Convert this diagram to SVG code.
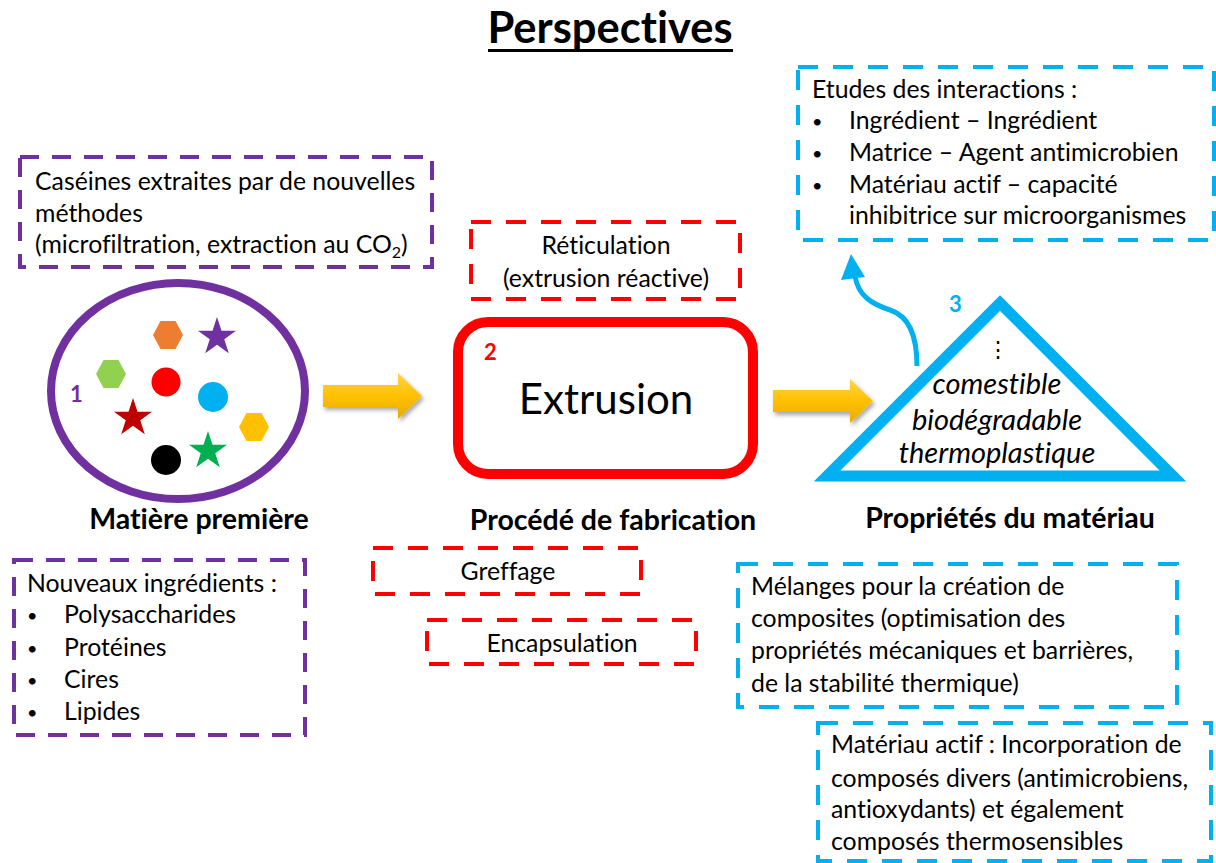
<svg xmlns="http://www.w3.org/2000/svg" xmlns:xlink="http://www.w3.org/1999/xlink" width="1216" height="863" viewBox="0 0 1216 863">
<style>
text{font-family:Lato,"Open Sans","Liberation Sans",sans-serif;fill:#000;font-variant-ligatures:none}
.t{font-size:24.8px}
.b{font-size:18px}
.lbl{font-size:28.5px;font-weight:bold;text-anchor:middle}
.num{font-size:22px;font-weight:bold}
.it{font-size:29px;font-style:italic;text-anchor:middle}
.c{text-anchor:middle}
.dp{fill:none;stroke:#7030A0;stroke-width:4;stroke-dasharray:19 13}
.dr{fill:none;stroke:#FF0000;stroke-width:4;stroke-dasharray:20 15}
.db{fill:none;stroke:#00B0F0;stroke-width:4;stroke-dasharray:20 15}
.ya{fill:url(#yg);filter:url(#sh)}
</style>
<defs>
<linearGradient id="yg" x1="0" y1="0" x2="0" y2="1">
<stop offset="0" stop-color="#FFD54A"/>
<stop offset="0.5" stop-color="#FFC000"/>
<stop offset="1" stop-color="#E6AC00"/>
</linearGradient>
<filter id="sh" x="-20%" y="-30%" width="140%" height="160%">
<feDropShadow dx="2" dy="3" stdDeviation="2" flood-color="#000" flood-opacity="0.35"/>
</filter>
<polygon id="star" points="0,-20 4.49,-6.18 19.02,-6.18 7.27,2.36 11.76,16.18 0,7.64 -11.76,16.18 -7.27,2.36 -19.02,-6.18 -4.49,-6.18"/>
<polygon id="hex" points="-15,0 -7.5,-14 7.5,-14 15,0 7.5,14 -7.5,14"/>
</defs>
<rect width="1216" height="863" fill="#fff"/>

<g id="title">
<text x="610" y="43" font-size="43.5" font-weight="bold" text-anchor="middle">Perspectives</text>
<rect x="488" y="49" width="245" height="3" fill="#000"/>
</g>

<g id="connectors">
<path class="ya" d="M323,385 H398 V373 L422,396 L398,419 V407 H323 Z"/>
<path class="ya" d="M773,390 H850 V379 L873,401 L850,423 V412 H773 Z"/>
<path d="M917,366 C917,332 906,315 890,310 C872,304 858,296 855,276" fill="none" stroke="#00B0F0" stroke-width="5"/>
<polygon points="851,254 841,280 865,277" fill="#00B0F0"/>
</g>

<g id="node-casein">
<rect class="dp" x="20" y="157" width="412" height="110"/>
<text class="t" x="35" y="190">Caséines extraites par de nouvelles</text>
<text class="t" x="35" y="222">méthodes</text>
<text class="t" x="35" y="253">(microfiltration, extraction au CO<tspan font-size="16" dy="5">2</tspan><tspan dy="-5">)</tspan></text>
</g>

<g id="node-matiere">
<ellipse cx="178" cy="391" rx="127" ry="108" fill="#fff" stroke="#7030A0" stroke-width="8"/>
<text class="num" x="70" y="402" style="fill:#7030A0">1</text>
<use xlink:href="#hex" x="168" y="335" fill="#ED7D31"/>
<use xlink:href="#star" x="217" y="337" fill="#7030A0"/>
<use xlink:href="#hex" x="111" y="374" fill="#92D050"/>
<circle cx="166" cy="382" r="14.5" fill="#FF0000"/>
<circle cx="213" cy="397" r="15" fill="#00B0F0"/>
<use xlink:href="#star" x="133" y="418" fill="#C00000"/>
<use xlink:href="#hex" x="254" y="427" fill="#FFC000"/>
<use xlink:href="#star" x="208" y="451" fill="#00B050"/>
<circle cx="166" cy="460" r="15" fill="#000"/>
<text class="lbl" x="199" y="529">Matière première</text>
</g>

<g id="node-ingredients">
<rect class="dp" x="14" y="560" width="291" height="175"/>
<text class="t" x="27" y="592">Nouveaux ingrédients :</text>
<text class="b" x="27" y="622">•</text><text class="t" x="64" y="623">Polysaccharides</text>
<text class="b" x="27" y="655">•</text><text class="t" x="64" y="656">Protéines</text>
<text class="b" x="27" y="687">•</text><text class="t" x="64" y="688">Cires</text>
<text class="b" x="27" y="719">•</text><text class="t" x="64" y="720">Lipides</text>
</g>

<g id="node-reticulation">
<rect class="dr" x="471" y="222" width="269" height="77"/>
<text class="t c" x="606" y="254">Réticulation</text>
<text class="t c" x="606" y="287">(extrusion réactive)</text>
</g>

<g id="node-extrusion">
<rect x="458" y="322" width="295" height="152" rx="30" fill="#fff" stroke="#FF0000" stroke-width="10"/>
<text class="num" x="484" y="360" style="fill:#FF0000">2</text>
<text x="606" y="414" font-size="42" text-anchor="middle">Extrusion</text>
<text class="lbl" x="613" y="530">Procédé de fabrication</text>
</g>

<g id="node-greffage">
<rect class="dr" x="373" y="548" width="268" height="46"/>
<text class="t c" x="508" y="580">Greffage</text>
</g>

<g id="node-encapsulation">
<rect class="dr" x="427" y="620" width="269" height="44"/>
<text class="t c" x="562" y="652">Encapsulation</text>
</g>

<g id="node-proprietes">
<polygon points="1000,303 1173,476 827,476" fill="#fff" stroke="#00B0F0" stroke-width="11" stroke-linejoin="miter"/>
<text class="num" x="949" y="312" style="fill:#00B0F0">3</text>
<text x="998" y="357" font-size="22" text-anchor="middle">⋮</text>
<text class="it" x="997" y="394">comestible</text>
<text class="it" x="997" y="430">biodégradable</text>
<text class="it" x="997" y="463">thermoplastique</text>
<text class="lbl" x="1010" y="528">Propriétés du matériau</text>
</g>

<g id="node-interactions">
<rect class="db" x="798" y="67" width="416" height="173"/>
<text class="t" x="812" y="98">Etudes des interactions :</text>
<text class="b" x="812" y="128">•</text><text class="t" x="849" y="129">Ingrédient – Ingrédient</text>
<text class="b" x="812" y="160">•</text><text class="t" x="849" y="161">Matrice – Agent antimicrobien</text>
<text class="b" x="812" y="192">•</text><text class="t" x="849" y="193">Matériau actif – capacité</text>
<text class="t" x="849" y="224">inhibitrice sur microorganismes</text>
</g>

<g id="node-melanges">
<rect class="db" x="738" y="564" width="439" height="143"/>
<text class="t" x="751" y="595">Mélanges pour la création de</text>
<text class="t" x="751" y="627">composites (optimisation des</text>
<text class="t" x="751" y="659">propriétés mécaniques et barrières,</text>
<text class="t" x="751" y="692">de la stabilité thermique)</text>
</g>

<g id="node-actif">
<rect class="db" x="818" y="723" width="393" height="138"/>
<text class="t" x="831" y="753">Matériau actif : Incorporation de</text>
<text class="t" x="831" y="787">composés divers (antimicrobiens,</text>
<text class="t" x="831" y="818">antioxydants) et également</text>
<text class="t" x="831" y="850">composés thermosensibles</text>
</g>
</svg>
